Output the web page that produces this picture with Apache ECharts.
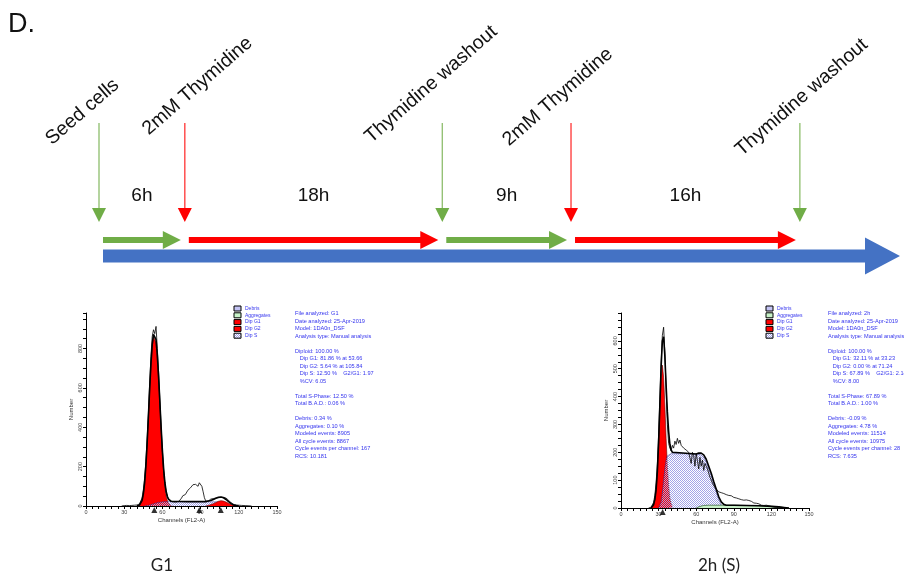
<!DOCTYPE html>
<html>
<head>
<meta charset="utf-8">
<script src="https://cdn.jsdelivr.net/npm/echarts@6.0.0/dist/echarts.min.js"></script>
<style>
  html, body { margin: 0; padding: 0; background: #fff; }
  #chart { width: 904px; height: 578px; }
</style>
</head>
<body>
<div id="chart"></div>
<script>
// ---- double thymidine block timeline (hours) ----
const eventHours = [0, 6, 24, 33, 49];
const eventLabels = ["Seed cells", "2mM Thymidine", "Thymidine washout", "2mM Thymidine", "Thymidine washout"];
const eventKinds = ["release", "block", "release", "block", "release"];
const phaseStarts = [0, 6, 24, 33];
const phaseEnds = [6, 24, 33, 49];
const phaseKinds = ["release", "block", "release", "block"];
const phaseLabels = ["6h", "18h", "9h", "16h"];
const timelineEnd = 56;

// ---- flow histograms, [channel, count] ----
const channelMax = 150;
const channelStep = 30;
const g1CountMax = 980;
const g1CountStep = 200;
const s2hCountMax = 700;
const s2hCountStep = 100;

const g1Raw = [[28,0],[30,2],[32,3],[34,2],[36,3],[38,4],[40,5],[41,7],[42,10],[43,20],[44,40],[45,80],[46,140],[47,225],[48,340],[49,470],[50,620],[51,760],[52,860],[53,895],[54,875],[55,912],[56,800],[57,680],[58,540],[59,400],[60,280],[61,180],[62,110],[63,70],[64,42],[65,30],[66,24],[67,22],[68,21],[69,20],[70,21],[71,20],[72,22],[73,24],[74,30],[75,40],[76,52],[77,60],[78,58],[79,68],[80,80],[81,88],[82,92],[83,100],[84,108],[85,103],[86,110],[87,108],[88,100],[89,118],[90,122],[91,100],[92,72],[93,42],[94,26],[95,22],[96,25],[97,30],[98,35],[99,40],[100,38],[101,42],[102,40],[103,45],[104,43],[105,46],[106,44],[107,47],[108,44],[109,45],[110,40],[111,36],[112,29],[113,22],[114,16],[115,12],[116,8],[117,6],[118,5],[120,4],[122,3],[125,2],[128,1],[130,0]];
const g1DipG1 = [[40,0],[41,2],[42,5],[43,12],[44,28],[45,60],[46,115],[47,200],[48,315],[49,450],[50,590],[51,715],[52,810],[53,860],[54,868],[55,830],[56,750],[57,640],[58,510],[59,380],[60,260],[61,165],[62,95],[63,50],[64,25],[65,12],[66,5],[67,2],[68,0]];
const g1DipS = [[46,0],[48,2],[50,5],[52,9],[54,13],[56,17],[58,19],[60,21],[62,22],[70,22],[80,22],[90,22],[96,22],[98,21],[102,21],[104,20],[106,19],[108,17],[110,13],[112,8],[114,4],[116,1],[118,0]];
const g1DipG2 = [[94,0],[96,3],[98,7],[100,12],[102,18],[104,24],[106,27],[108,25],[110,20],[112,14],[114,8],[116,4],[118,2],[120,0]];
const g1Fit = [[40,0],[41,2],[42,5],[43,12],[44,28],[45,60],[46,115],[47,201],[48,317],[49,453],[50,595],[51,722],[52,819],[53,871],[54,881],[55,845],[56,767],[57,658],[58,529],[59,400],[60,281],[61,186],[62,117],[63,72],[64,47],[65,34],[66,27],[67,24],[68,22],[80,22],[94,22],[96,25],[98,28],[100,33],[102,39],[104,44],[106,46],[108,42],[110,33],[112,22],[114,12],[116,5],[118,2],[120,0]];
const g1PeakMarkers = [53.66, 89, 105.84];

const s2hRaw = [[22,0],[23,1],[24,3],[25,8],[26,20],[27,45],[28,90],[29,160],[30,260],[31,390],[32,520],[33,620],[34,649],[35,560],[36,420],[37,300],[38,232],[39,215],[40,205],[41,225],[42,215],[43,240],[44,228],[45,250],[46,232],[47,244],[48,225],[49,230],[50,215],[51,222],[52,208],[53,212],[54,200],[55,195],[56,160],[57,200],[58,188],[59,150],[60,195],[61,170],[62,140],[63,182],[64,150],[65,172],[66,135],[67,160],[68,150],[69,140],[70,125],[71,110],[72,100],[73,88],[74,80],[75,77],[76,68],[77,62],[78,58],[79,53],[80,55],[81,50],[82,52],[83,46],[84,48],[85,44],[86,45],[87,40],[88,44],[89,41],[90,38],[91,42],[92,36],[93,38],[94,33],[95,36],[96,30],[97,32],[98,28],[99,30],[100,29],[101,25],[102,27],[103,22],[104,24],[105,20],[106,18],[107,20],[108,17],[109,14],[110,15],[111,12],[112,10],[113,12],[114,9],[115,8],[116,10],[117,6],[118,8],[119,7],[120,5],[121,6],[122,3],[123,4],[124,2],[125,3],[126,1],[127,2],[128,0]];
const s2hDipG1 = [[24,0],[25,2],[26,12],[27,30],[28,65],[29,130],[30,230],[31,350],[32,460],[33,513],[34,470],[35,370],[36,250],[37,150],[38,80],[39,35],[40,14],[41,5],[42,0]];
const s2hDipS = [[30,0],[31,6],[32,22],[33,55],[34,100],[35,142],[36,172],[37,187],[38,193],[40,195],[50,195],[60,194],[62,193],[64,190],[66,182],[68,165],[70,140],[72,115],[74,85],[76,57],[78,30],[80,12],[82,3],[84,0]];
const s2hAggregates = [[60,0],[62,4],[64,7],[66,9],[70,10],[80,10],[90,10],[100,9],[110,8],[120,6],[126,4],[130,2],[134,0]];
const s2hFit = [[24,0],[25,2],[26,12],[27,30],[28,65],[29,130],[30,235],[31,370],[32,505],[33,600],[34,615],[35,545],[36,440],[37,345],[38,275],[39,229],[40,209],[41,200],[42,195],[60,194],[62,197],[64,197],[66,191],[68,175],[70,150],[72,125],[74,95],[76,67],[78,40],[80,22],[82,13],[84,10],[90,10],[100,9],[110,8],[120,6],[126,4],[130,2],[134,0]];
const s2hPeakMarkers = [33.23];

const legendItems = ["Debris", "Aggregates", "Dip G1", "Dip G2", "Dip S"];
const g1Report = ["File analyzed: G1", "Date analyzed: 25-Apr-2019", "Model: 1DA0n_DSF", "Analysis type: Manual analysis", "",
  "Diploid: 100.00 %", "   Dip G1: 81.86 % at 53.66", "   Dip G2: 5.64 % at 105.84", "   Dip S: 12.50 %    G2/G1: 1.97", "   %CV: 6.05", "",
  "Total S-Phase: 12.50 %", "Total B.A.D.: 0.06 %", "",
  "Debris: 0.34 %", "Aggregates: 0.10 %", "Modeled events: 8905", "All cycle events: 8867", "Cycle events per channel: 167", "RCS: 10.181"];
const s2hReport = ["File analyzed: 2h", "Date analyzed: 25-Apr-2019", "Model: 1DA0n_DSF", "Analysis type: Manual analysis", "",
  "Diploid: 100.00 %", "   Dip G1: 32.11 % at 33.23", "   Dip G2: 0.00 % at 71.24", "   Dip S: 67.89 %    G2/G1: 2.14", "   %CV: 8.00", "",
  "Total S-Phase: 67.89 %", "Total B.A.D.: 1.00 %", "",
  "Debris: -0.09 %", "Aggregates: 4.78 %", "Modeled events: 11514", "All cycle events: 10975", "Cycle events per channel: 28", "RCS: 7.635"];
const panelTitles = ["G1", "2h (S)"];

// ---- styling ----
const GREEN = "#70AD47";
const RED = "#FF0000";
const BLUE = "#4472C4";
const kindColor = { release: GREEN, block: RED };
const SANS = "'Liberation Sans', Arial, sans-serif";
const REPORT_BLUE = "#3535ee";

// the labels above the arrows were placed by hand in the original, small nudges per label
const labelNudge = [[8, 0], [19, -10], [-16, -2], [-7, 1], [-3, 11]];

// fine blue/white checker used for the S-phase fill
function makeHatch() {
  const c = document.createElement("canvas");
  c.width = 2;
  c.height = 2;
  const ctx = c.getContext("2d");
  ctx.fillStyle = "#a2a2e8";
  ctx.fillRect(0, 0, 1, 1);
  ctx.fillRect(1, 1, 1, 1);
  return c;
}
const hatch = { image: makeHatch(), repeat: "repeat" };

document.addEventListener("DOMContentLoaded", function () {
  const chart = echarts.init(document.getElementById("chart"));

  function channelAxis(gridIndex) {
    return {
      type: "value", gridIndex: gridIndex, min: 0, max: channelMax, interval: channelStep,
      name: "Channels (FL2-A)", nameLocation: "middle", nameGap: 11,
      nameTextStyle: { fontSize: 6, color: "#333", fontFamily: SANS },
      axisLine: { lineStyle: { color: "#000", width: 1 } },
      axisTick: { length: 3, lineStyle: { color: "#000" } },
      minorTick: { show: true, splitNumber: 6, length: 3, lineStyle: { color: "#000" } },
      axisLabel: { fontSize: 5.5, color: "#444", margin: 3, fontFamily: SANS },
      splitLine: { show: false },
    };
  }
  function countAxis(gridIndex, max, step) {
    return {
      type: "value", gridIndex: gridIndex, min: 0, max: max, interval: step,
      name: "Number", nameLocation: "middle", nameGap: 12, nameRotate: 90,
      nameTextStyle: { fontSize: 6, color: "#333", fontFamily: SANS },
      axisLine: { show: true, lineStyle: { color: "#000", width: 1 } },
      axisTick: { show: true, length: 3, lineStyle: { color: "#000" } },
      minorTick: { show: true, splitNumber: 4, length: 3, lineStyle: { color: "#000" } },
      axisLabel: { fontSize: 5.5, color: "#444", margin: 3, rotate: 90, showMaxLabel: false, fontFamily: SANS },
      splitLine: { show: false },
    };
  }

  function area(gi, data, fill, stroke, width, z) {
    return {
      type: "line", xAxisIndex: gi, yAxisIndex: gi, data: data, z: z,
      symbol: "none", silent: true,
      lineStyle: { color: stroke, width: width },
      areaStyle: { color: fill, opacity: 1 },
    };
  }
  function outline(gi, data, width, z) {
    return {
      type: "line", xAxisIndex: gi, yAxisIndex: gi, data: data, z: z,
      symbol: "none", silent: true,
      lineStyle: { color: "#000", width: width },
    };
  }
  function markers(gi, channels) {
    return {
      type: "scatter", xAxisIndex: gi, yAxisIndex: gi, z: 8, clip: false, silent: true,
      data: channels.map(function (c) { return [c, 0]; }),
      symbol: "triangle", symbolSize: [6, 6], symbolOffset: [0, 4],
      itemStyle: { color: "#000" },
    };
  }

  // timeline renderers
  const TL = { mainY: 256, phaseY: 240, arrowTop: 123, arrowHead: 208, arrowTip: 222, durationY: 196, labelDx: -52, labelY: 149 };

  function renderMain(params, api) {
    const x0 = api.coord([api.value(0), 0])[0] + 4;
    const x1 = api.coord([api.value(1), 0])[0];
    const y = TL.mainY, sw = 6.5, hw = 18.5, head = 35;
    return {
      type: "polygon",
      shape: { points: [[x0, y - sw], [x1 - head, y - sw], [x1 - head, y - hw], [x1, y], [x1 - head, y + hw], [x1 - head, y + sw], [x0, y + sw]] },
      style: { fill: BLUE },
    };
  }
  function renderPhase(params, api) {
    const i = params.dataIndex;
    const x0 = api.coord([api.value(0), 0])[0] + 4;
    const x1 = api.coord([api.value(1), 0])[0] - 4;
    const mid = api.coord([(api.value(0) + api.value(1)) / 2, 0])[0];
    const y = TL.phaseY, sw = 3, hw = 9, head = 18;
    return {
      type: "group",
      children: [
        {
          type: "polygon",
          shape: { points: [[x0, y - sw], [x1 - head, y - sw], [x1 - head, y - hw], [x1, y], [x1 - head, y + hw], [x1 - head, y + sw], [x0, y + sw]] },
          style: { fill: kindColor[phaseKinds[i]] },
        },
        {
          type: "text", x: mid, y: TL.durationY,
          style: { text: phaseLabels[i], fontSize: 19, fontFamily: SANS, fill: "#111", align: "center", verticalAlign: "middle" },
        },
      ],
    };
  }
  function renderEvent(params, api) {
    const i = params.dataIndex;
    const x = api.coord([api.value(0), 0])[0];
    const color = kindColor[eventKinds[i]];
    return {
      type: "group",
      children: [
        { type: "line", shape: { x1: x, y1: TL.arrowTop, x2: x, y2: TL.arrowHead + 1 }, style: { stroke: color, lineWidth: 1.3, opacity: 0.8 } },
        { type: "polygon", shape: { points: [[x - 7, TL.arrowHead], [x + 7, TL.arrowHead], [x, TL.arrowTip]] }, style: { fill: color } },
        {
          type: "text", x: x + TL.labelDx + labelNudge[i][0], y: TL.labelY + labelNudge[i][1], rotation: 41 * Math.PI / 180,
          style: { text: eventLabels[i], fontSize: 19.5, fontFamily: SANS, fill: "#111", align: "left", verticalAlign: "bottom" },
        },
      ],
    };
  }

  // legend + report text as graphics
  function legendGraphic(left, top) {
    const fills = ["#c4c4f4", "#c8f2c8", RED, RED, hatch];
    const children = [];
    legendItems.forEach(function (name, i) {
      const y = i * 6.8;
      if (i === 4) {
        children.push({ type: "rect", shape: { x: 0, y: y, width: 7, height: 5 }, style: { fill: "#fff" } });
      }
      children.push({ type: "rect", shape: { x: 0, y: y, width: 7, height: 5 }, style: { fill: fills[i], stroke: "#000", lineWidth: 1 } });
      children.push({ type: "text", x: 11, y: y + 2.5, style: { text: name, fontSize: 5, fontFamily: SANS, fill: REPORT_BLUE, verticalAlign: "middle" } });
    });
    return { type: "group", x: left, y: top, children: children, silent: true };
  }
  function reportGraphic(left, top, lines) {
    return {
      type: "text", x: left, y: top, silent: true,
      style: { text: lines.join("\n"), fontSize: 5.6, lineHeight: 7.5, fontFamily: SANS, fill: REPORT_BLUE, verticalAlign: "top" },
    };
  }

  const option = {
    animation: false,
    backgroundColor: "#fff",
    grid: [
      { left: 86, top: 313, width: 191, height: 193 },
      { left: 621, top: 313, width: 188, height: 195 },
      { left: 99, right: 4, top: 100, height: 150 },
    ],
    xAxis: [
      channelAxis(0),
      channelAxis(1),
      { type: "value", gridIndex: 2, min: 0, max: timelineEnd, show: false },
    ],
    yAxis: [
      countAxis(0, g1CountMax, g1CountStep),
      countAxis(1, s2hCountMax, s2hCountStep),
      { type: "value", gridIndex: 2, min: 0, max: 1, show: false },
    ],
    series: [
      // G1 sample
      area(0, g1DipS, "#fff", "transparent", 0, 1),
      area(0, g1DipG1, RED, "#600", 0.6, 2),
      area(0, g1DipS, hatch, "#2a2a8a", 0.5, 3),
      area(0, g1DipG2, RED, "#600", 0.6, 4),
      outline(0, g1Fit, 1.6, 5),
      outline(0, g1Raw, 0.8, 6),
      markers(0, g1PeakMarkers),
      // 2h sample
      area(1, s2hDipS, "#fff", "transparent", 0, 1),
      area(1, s2hDipG1, RED, "#600", 0.6, 2),
      area(1, s2hDipS, hatch, "#2a2a8a", 0.5, 3),
      area(1, s2hAggregates, "#c8f0c8", "#2c5c2c", 0.7, 4),
      outline(1, s2hFit, 1.6, 5),
      outline(1, s2hRaw, 0.8, 6),
      markers(1, s2hPeakMarkers),
      // timeline
      { type: "custom", xAxisIndex: 2, yAxisIndex: 2, clip: false, silent: true, renderItem: renderMain, data: [[0, timelineEnd]] },
      { type: "custom", xAxisIndex: 2, yAxisIndex: 2, clip: false, silent: true, z: 3, renderItem: renderPhase,
        data: phaseStarts.map(function (s, i) { return [s, phaseEnds[i]]; }) },
      { type: "custom", xAxisIndex: 2, yAxisIndex: 2, clip: false, silent: true, z: 3, renderItem: renderEvent,
        data: eventHours.map(function (h) { return [h]; }) },
    ],
    graphic: [
      { type: "text", x: 8, y: 25, silent: true, style: { text: "D.", fontSize: 27, fontFamily: SANS, fill: "#111", verticalAlign: "middle" } },
      legendGraphic(234, 306),
      legendGraphic(766, 306),
      reportGraphic(295, 310, g1Report),
      reportGraphic(828, 310, s2hReport),
      { type: "text", x: 162, y: 566, silent: true, style: { text: panelTitles[0], fontSize: 17, fontFamily: "Lato, sans-serif", fill: "#222", align: "center", verticalAlign: "middle" } },
      { type: "text", x: 719, y: 566, silent: true, style: { text: panelTitles[1], fontSize: 17, fontFamily: "Lato, sans-serif", fill: "#222", align: "center", verticalAlign: "middle" } },
    ],
  };

  chart.setOption(option);
});
</script>
</body>
</html>
